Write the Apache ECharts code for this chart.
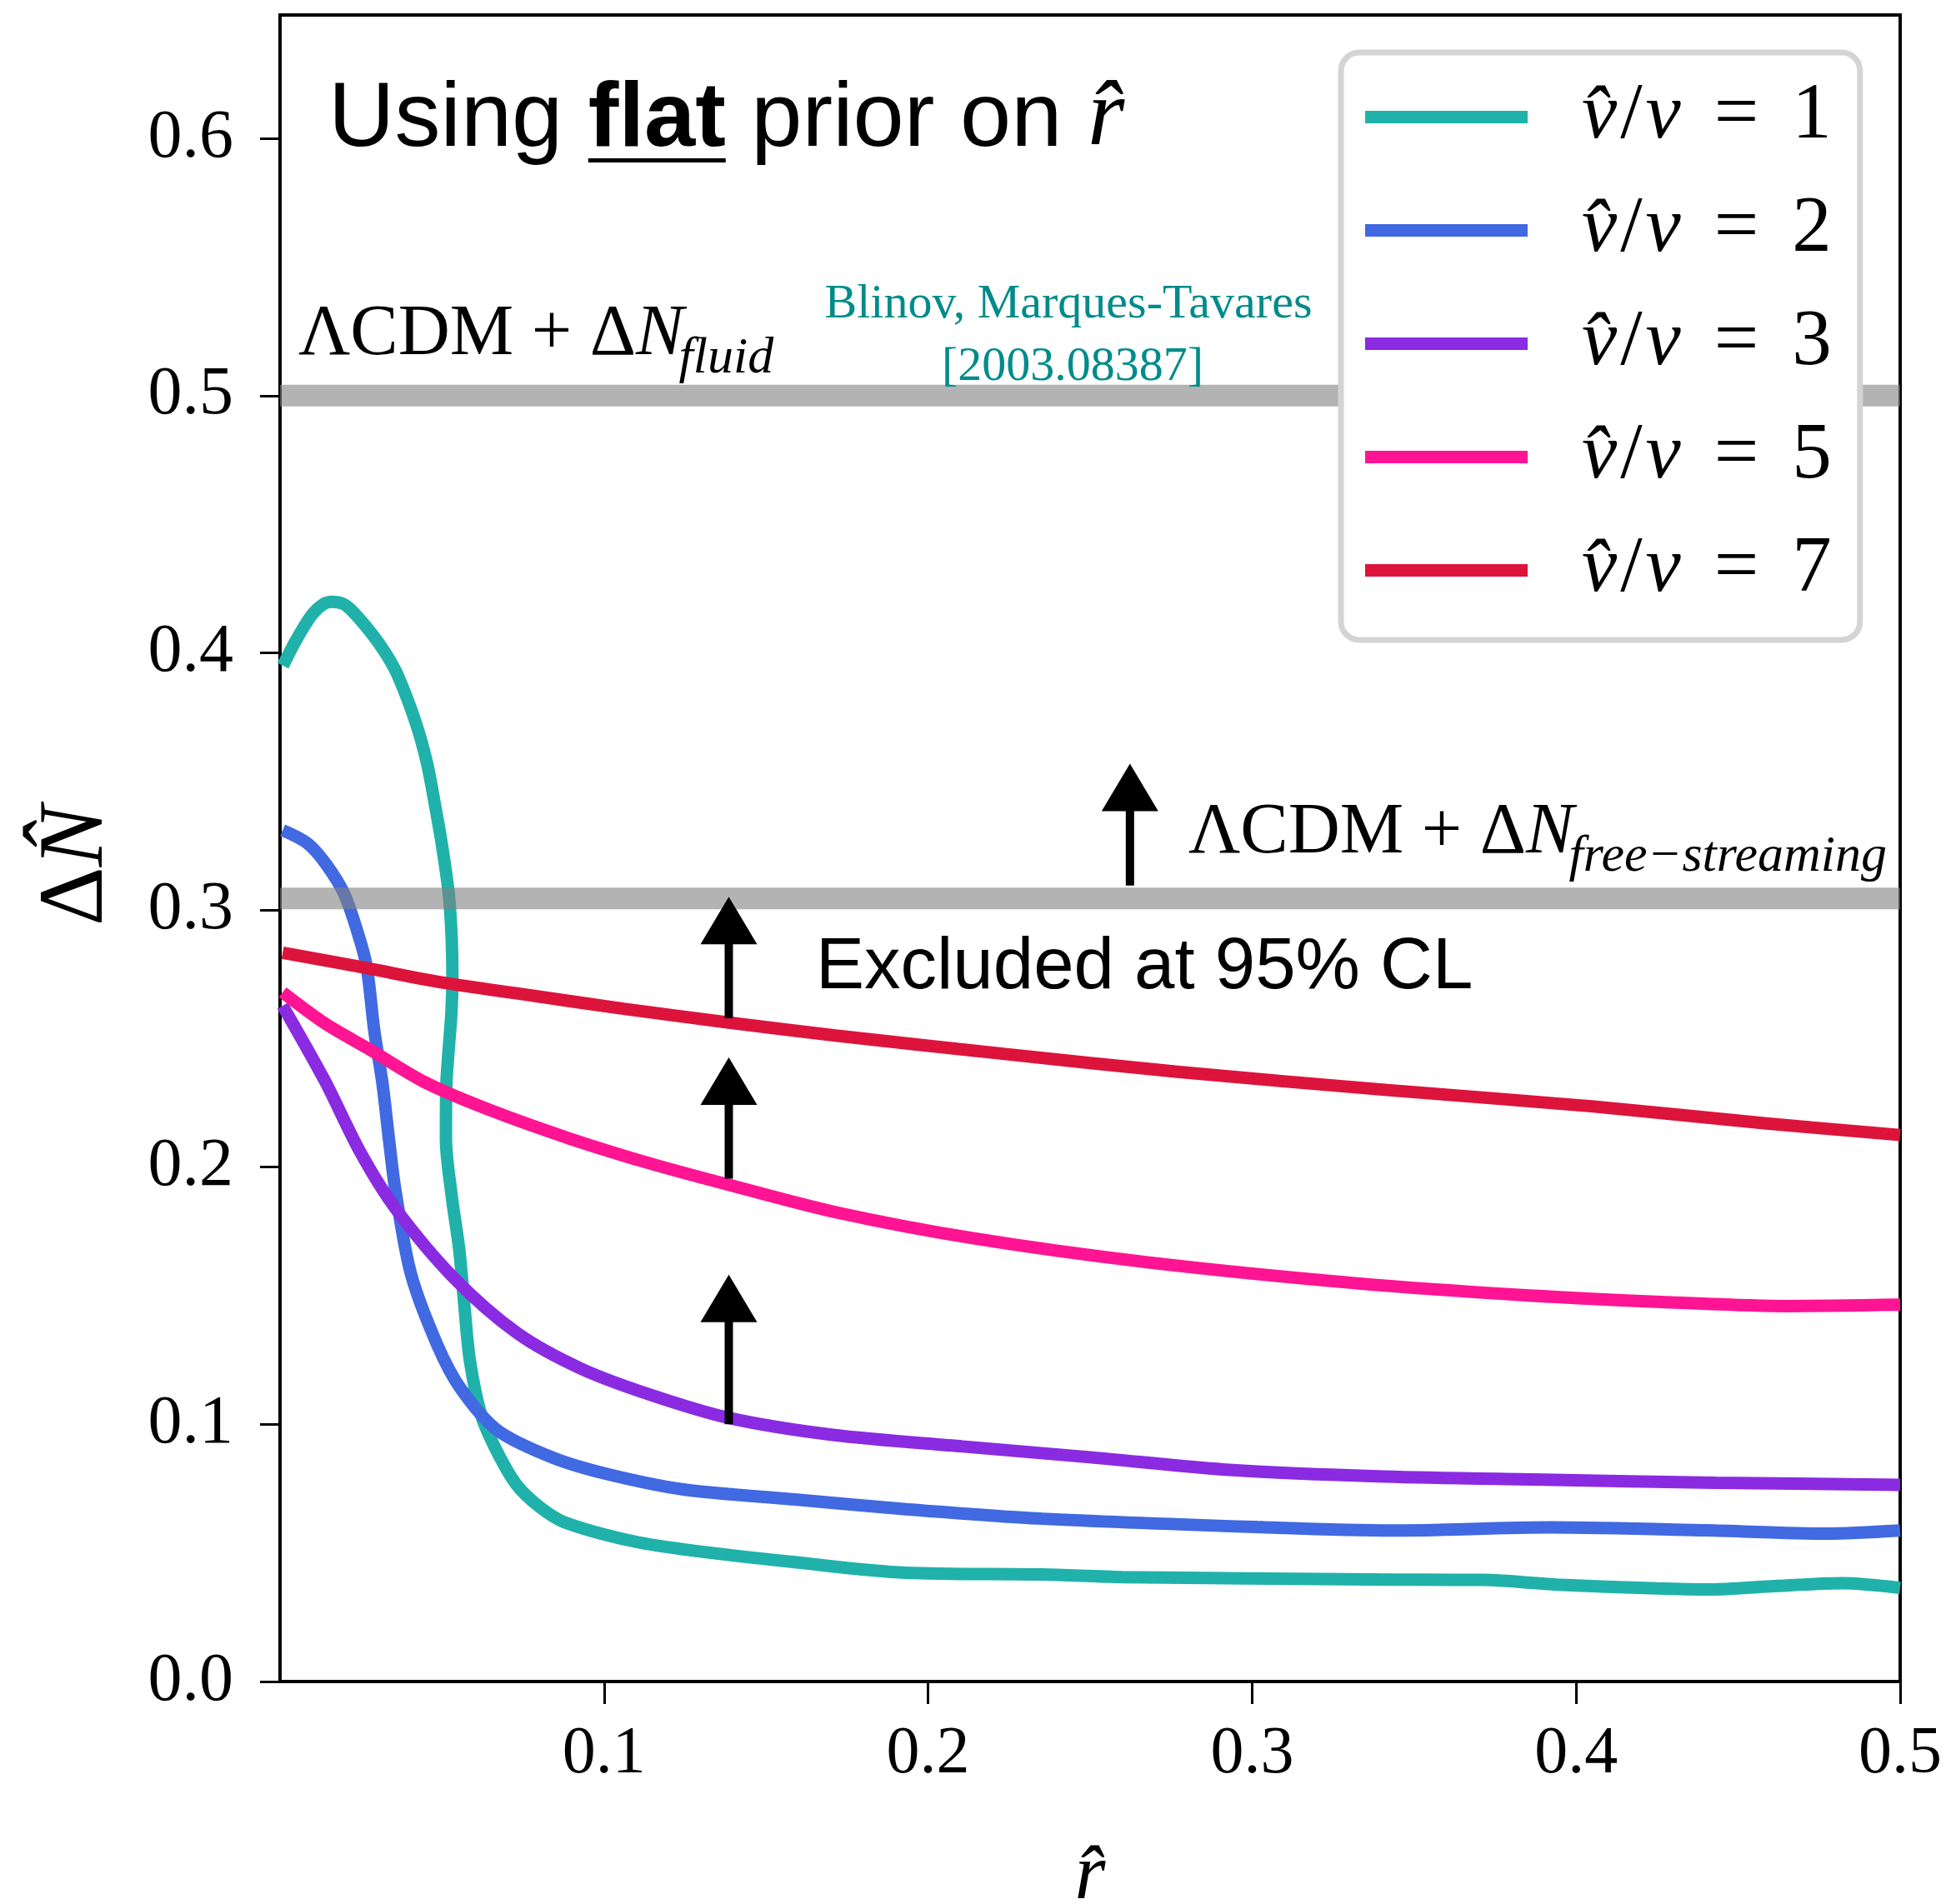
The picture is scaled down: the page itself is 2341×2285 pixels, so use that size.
<!DOCTYPE html>
<html>
<head>
<meta charset="utf-8">
<script src="https://cdn.jsdelivr.net/npm/echarts@6/dist/echarts.min.js"></script>
<style>
html, body { margin: 0; padding: 0; background: #fff; }
#chart { width: 2341px; height: 2285px; }
</style>
</head>
<body>
<div id="chart"></div>
<script>
// 数据：横轴 r̂，纵轴 ΔN̂
var ratioLabels = ['1', '2', '3', '5', '7'];
var lineColors = ['#20b2aa', '#4169e1', '#8a2be2', '#ff1493', '#dc143c'];

var curveV1 = [[0.0009,0.395],[0.0050,0.405],[0.0098,0.4147],[0.0135,0.4190],[0.0161,0.4198],[0.0195,0.4190],
  [0.0224,0.4161],[0.0282,0.4076],[0.0325,0.4000],[0.0362,0.3916],[0.0419,0.3728],[0.0454,0.3569],[0.0478,0.3410],
  [0.0500,0.3250],[0.0523,0.3034],[0.0532,0.2745],[0.0529,0.2601],[0.0520,0.2450],[0.0513,0.2310],[0.0512,0.2110],
  [0.0529,0.1896],[0.0553,0.1680],[0.0569,0.1460],[0.0586,0.1248],[0.0622,0.1032],[0.0671,0.0891],[0.0730,0.0765],
  [0.0800,0.0680],[0.0877,0.0620],[0.1073,0.0550],[0.1245,0.0514],[0.1589,0.0464],[0.1932,0.0423],[0.2354,0.0416],
  [0.2600,0.0406],[0.3366,0.0397],[0.3715,0.0395],[0.3940,0.0377],[0.4250,0.0362],[0.4417,0.0358],[0.4600,0.0370],
  [0.4822,0.0382],[0.5000,0.0364]];
var curveV2 = [[0.0008,0.3310],[0.0084,0.3260],[0.0141,0.3180],[0.0199,0.3060],[0.0245,0.2890],[0.0268,0.2776],
  [0.0291,0.2530],[0.0316,0.2327],[0.0337,0.2100],[0.0356,0.1910],[0.0404,0.1585],[0.0485,0.1310],[0.0557,0.1140],
  [0.0671,0.0977],[0.0843,0.0870],[0.1015,0.0805],[0.1245,0.0747],[0.1589,0.0708],[0.1932,0.0670],[0.2354,0.0633],
  [0.3030,0.0600],[0.3430,0.0587],[0.3920,0.0599],[0.4400,0.0588],[0.4773,0.0575],[0.5000,0.0587]];
var curveV3 = [[0.0008,0.2628],[0.0137,0.2339],[0.0247,0.2060],[0.0356,0.1840],[0.0536,0.1570],[0.0734,0.1353],
  [0.0930,0.1216],[0.1143,0.1115],[0.1385,0.1025],[0.1706,0.0959],[0.2107,0.0914],[0.2500,0.0872],[0.2941,0.0822],
  [0.3409,0.0797],[0.3900,0.0785],[0.4430,0.0773],[0.5000,0.0765]];
var curveV5 = [[0.0008,0.2680],[0.0141,0.2557],[0.0279,0.2456],[0.0452,0.2327],[0.0652,0.2220],[0.0897,0.2110],
  [0.1143,0.2014],[0.1389,0.1930],[0.1714,0.1825],[0.2141,0.1723],[0.2671,0.1631],[0.3310,0.1550],[0.3845,0.1502],
  [0.4374,0.1470],[0.4650,0.1460],[0.5000,0.1465]];
var curveV7 = [[0.0008,0.2834],[0.0259,0.2776],[0.0510,0.2716],[0.0740,0.2674],[0.1060,0.2616],[0.1381,0.2563],
  [0.1714,0.2512],[0.2237,0.2440],[0.2776,0.2370],[0.3417,0.2300],[0.4054,0.2236],[0.4587,0.2170],[0.5000,0.2125]];
var curves = [curveV1, curveV2, curveV3, curveV5, curveV7];

var bandLevels = [0.5, 0.3045];          // ΛCDM + ΔN_fluid, ΛCDM + ΔN_free-streaming
var arrows = [[0.1385, 0.1000, 0.1582], [0.1385, 0.1955, 0.2427], [0.1385, 0.2579, 0.3051], [0.2623, 0.3095, 0.3569]];
var xTicks = [0.1, 0.2, 0.3, 0.4, 0.5];
var yTicks = [0, 0.1, 0.2, 0.3, 0.4, 0.5, 0.6];

var SERIF = '"Liberation Serif"';
var SANS = '"Liberation Sans"';

var myChart = echarts.init(document.getElementById('chart'));

// 文字测量，用来拼接上下标
var ctx2d = document.createElement('canvas').getContext('2d');
function fontStr(p) {
  return [p.style || 'normal', p.weight || 'normal', p.size + 'px', p.family].join(' ');
}
function runText(parts, left, baseline, color, anchor) {
  var widths = parts.map(function (p) { ctx2d.font = fontStr(p); return ctx2d.measureText(p.text).width + (p.dx || 0); });
  var total = widths.reduce(function (a, b) { return a + b; }, 0);
  var x = anchor === 'center' ? left - total / 2 : left;
  var els = [];
  parts.forEach(function (p, i) {
    var x0 = x + (p.dx || 0);
    els.push({
      type: 'text', x: x0, y: baseline + (p.dy || 0) - 0.34 * p.size, z: 50,
      style: { text: p.text, font: fontStr(p), fill: color, textAlign: 'left', verticalAlign: 'middle', textVerticalAlign: 'middle' }
    });
    if (p.underline) {
      ctx2d.font = fontStr(p);
      els.push({ type: 'rect', z: 50, shape: { x: x0, y: baseline + 8, width: ctx2d.measureText(p.text).width, height: 5 }, style: { fill: color } });
    }
    x += widths[i];
  });
  return els;
}

var graphics = [].concat(
  runText([
    { text: 'Using ', size: 110, family: SANS },
    { text: 'flat', size: 110, family: SANS, weight: 'bold', underline: true },
    { text: ' prior on ', size: 110, family: SANS },
    { text: 'r\u0302', size: 114, family: SERIF, style: 'italic' }
  ], 394, 182, '#000'),
  runText([
    { text: '\u039bCDM + \u0394', size: 86, family: SERIF },
    { text: 'N', size: 86, family: SERIF, style: 'italic' },
    { text: 'fluid', size: 62, family: SERIF, style: 'italic', dy: 20, dx: -6 }
  ], 358, 432, '#000'),
  runText([
    { text: '\u039bCDM + \u0394', size: 86, family: SERIF },
    { text: 'N', size: 86, family: SERIF, style: 'italic' },
    { text: 'free\u2212streaming', size: 62, family: SERIF, style: 'italic', dy: 20, dx: -6 }
  ], 1426, 1030, '#000'),
  runText([{ text: 'Excluded at 95% CL', size: 87, family: SANS }], 979, 1192, '#000'),
  runText([{ text: 'Blinov, Marques-Tavares', size: 58, family: SERIF }], 1282, 385, '#008b8b', 'center'),
  runText([{ text: '[2003.08387]', size: 58, family: SERIF }], 1287, 460, '#008b8b', 'center')
);

var legendRich = {
  i: { fontFamily: SERIF, fontStyle: 'italic', fontSize: 95, lineHeight: 95, color: '#000' },
  n: { fontFamily: SERIF, fontSize: 95, lineHeight: 95, color: '#000' },
  s: { fontFamily: SERIF, fontSize: 95, lineHeight: 95, color: '#000', padding: [0, 4, 0, 4] },
  e: { fontFamily: SERIF, fontSize: 95, lineHeight: 95, color: '#000', padding: [0, 40, 0, 40] }
};

var seriesList = [];
curves.forEach(function (c, k) {
  seriesList.push({
    name: 'v\u0302/v = ' + ratioLabels[k],
    type: 'line',
    data: c,
    smooth: 0.3,
    showSymbol: false,
    symbol: 'none',
    lineStyle: { width: 15, color: lineColors[k] },
    itemStyle: { color: lineColors[k] },
    z: 2
  });
});
bandLevels.forEach(function (lv) {
  seriesList.push({
    type: 'line',
    data: [[0, lv], [0.5, lv]],
    showSymbol: false,
    symbol: 'none',
    silent: true,
    lineStyle: { width: 26, color: 'rgba(128,128,128,0.6)', cap: 'butt' },
    z: 3
  });
});
// 向上的箭头
seriesList.push({
  type: 'custom',
  data: arrows,
  encode: { x: 0, y: [1, 2] },
  silent: true,
  z: 4,
  renderItem: function (params, api) {
    var base = api.coord([api.value(0), api.value(1)]);
    var tip = api.coord([api.value(0), api.value(2)]);
    var headH = 57, headW = 68;
    return {
      type: 'group',
      children: [
        { type: 'rect', shape: { x: base[0] - 5, y: tip[1] + headH - 4, width: 10, height: base[1] - tip[1] - headH + 4 }, style: { fill: '#000' } },
        { type: 'polygon', shape: { points: [[tip[0], tip[1]], [tip[0] - headW / 2, tip[1] + headH], [tip[0] + headW / 2, tip[1] + headH]] }, style: { fill: '#000' } }
      ]
    };
  }
});

var option = {
  animation: false,
  backgroundColor: '#fff',
  grid: {
    left: 336, right: 61, top: 18, bottom: 267,
    show: true, borderColor: '#000', borderWidth: 4, backgroundColor: 'transparent',
    outerBoundsMode: 'none'
  },
  legend: {
    data: seriesList.slice(0, 5).map(function (s) { return s.name; }),
    orient: 'vertical',
    left: 1609, top: 63,
    icon: 'rect', itemWidth: 195, itemHeight: 15, itemGap: 41,
    padding: [30, 34, 36, 29],
    backgroundColor: '#fff', borderColor: '#d4d4d4', borderWidth: 7, borderRadius: 22,
    selectedMode: false,
    z: 10,
    formatter: function (name) {
      var v = name.split('= ')[1];
      return '{i|v\u0302}{s|/}{i|v}{e|=}{n|' + v + '}';
    },
    textStyle: { padding: [0, 0, 0, 60], rich: legendRich }
  },
  xAxis: {
    type: 'value', min: 0, max: 0.5,
    name: 'r\u0302', nameLocation: 'middle', nameGap: 188,
    nameTextStyle: { fontFamily: SERIF, fontStyle: 'italic', fontSize: 95, color: '#000' },
    axisLine: { show: true, onZero: false, lineStyle: { color: '#000', width: 4 } },
    axisTick: { show: true, length: 27, customValues: xTicks, lineStyle: { color: '#000', width: 3 } },
    axisLabel: { customValues: xTicks, margin: 48, fontFamily: SERIF, fontSize: 80, color: '#000',
      formatter: function (v) { return v.toFixed(1); } },
    splitLine: { show: false }
  },
  yAxis: {
    type: 'value', min: 0, max: 0.648,
    name: '{d|\u0394}{n|N\u0302}', nameLocation: 'middle', nameGap: 188, nameRotate: 90,
    nameTextStyle: { rich: {
      d: { fontFamily: SERIF, fontSize: 110, color: '#000' },
      n: { fontFamily: SERIF, fontStyle: 'italic', fontSize: 110, color: '#000', padding: [0, 42, 0, 0] }
    } },
    axisLine: { show: true, onZero: false, lineStyle: { color: '#000', width: 4 } },
    axisTick: { show: true, length: 24, customValues: yTicks, lineStyle: { color: '#000', width: 3 } },
    axisLabel: { customValues: yTicks, margin: 56, fontFamily: SERIF, fontSize: 82, color: '#000',
      formatter: function (v) { return v.toFixed(1); } },
    splitLine: { show: false }
  },
  graphic: graphics,
  series: seriesList
};
myChart.setOption(option);
</script>
</body>
</html>
